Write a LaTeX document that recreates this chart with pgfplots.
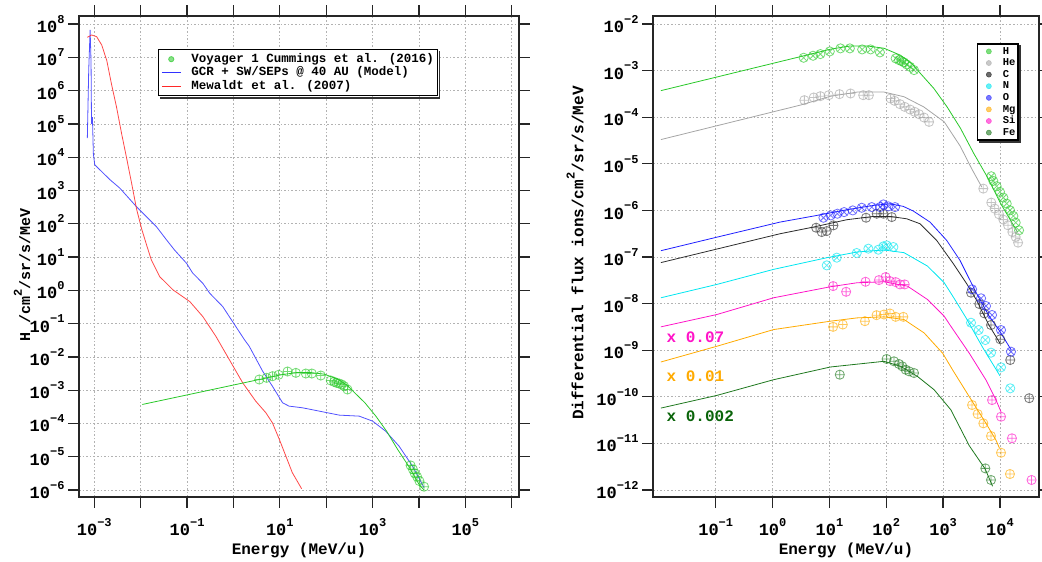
\documentclass[border=0pt]{standalone}
\usepackage{fontspec}
\setmainfont{Liberation Mono}
\usepackage{pgfplots}
\pgfplotsset{compat=1.18}

\definecolor{cH}{RGB}{40,200,40}
\definecolor{cHe}{RGB}{165,165,165}
\definecolor{cC}{RGB}{45,45,45}
\definecolor{cN}{RGB}{0,230,240}
\definecolor{cO}{RGB}{30,30,255}
\definecolor{cMg}{RGB}{255,170,0}
\definecolor{cSi}{RGB}{255,20,200}
\definecolor{cFe}{RGB}{30,120,30}
\definecolor{cRed}{RGB}{255,40,40}
\definecolor{cBlue}{RGB}{50,50,255}
\definecolor{cFeTxt}{RGB}{10,100,10}

\newcommand\ex[1]{\raisebox{0.55em}{\fontsize{12}{12}\selectfont #1}}

\pgfplotsset{
  dat/.style={only marks, mark size=4.6pt, opacity=0.65, mark options={line width=0.8pt}, forget plot},
  mdl/.style={no marks, line width=0.8pt, forget plot},
  legline/.style={legend image code/.code={\draw[##1] (0pt,0pt) -- (19pt,0pt);}},
  legmarkA/.style={legend image code/.code={\path[draw=none,fill=none] (0pt,-0.1pt) rectangle (19pt,0.1pt); \draw[##1,draw=none] plot coordinates {(9.5pt,0pt)};}},
  legmarkB/.style={legend image code/.code={\path[draw=none,fill=none] (0pt,-0.1pt) rectangle (18pt,0.1pt); \draw[##1,draw=none] plot coordinates {(9pt,0pt)};}},
}

\begin{document}
\bfseries
\begin{tikzpicture}
\useasboundingbox (0,0) rectangle (1042pt,562pt);

% ================= LEFT PANEL =================
\begin{axis}[
  scale only axis, xmode=log, ymode=log,
  axis line style={line width=1.3pt, black!85},
  tick style={line width=1.3pt, black!85},
  major tick length=11pt,
  tick align=outside,
  xtick pos=both, ytick pos=both,
  xticklabel pos=lower, yticklabel pos=left,
  xminorticks=false, yminorticks=false,
  grid=major,
  major grid style={dash pattern=on 1.6pt off 2pt, line width=0.7pt, black!30},
  tick label style={font=\fontsize{17}{17}\selectfont\bfseries},
  xticklabel style={yshift=-7pt},
  label style={font=\fontsize{16}{16}\selectfont\bfseries},
  xlabel style={at={(axis description cs:0.5,-0.1185)}, anchor=base},
  at={(79pt,65pt)}, anchor=south west, width=440pt, height=481pt,
  xmin=4.68e-4, xmax=1.435e6, ymin=6.17e-7, ymax=1.74e8,
  xtick={1e-3,1e-2,1e-1,1,10,100,1000,1e4,1e5,1e6},
  xticklabels={10\ex{−3},,10\ex{−1},,10\ex{1},,10\ex{3},,10\ex{5},},
  ytick={1e-6,1e-5,1e-4,1e-3,1e-2,1e-1,1,10,100,1e3,1e4,1e5,1e6,1e7,1e8},
  yticklabels={10\ex{−6},10\ex{−5},10\ex{−4},10\ex{−3},10\ex{−2},10\ex{−1},10\ex{0},10\ex{1},10\ex{2},10\ex{3},10\ex{4},10\ex{5},10\ex{6},10\ex{7},10\ex{8}},
  xlabel={Energy (MeV/u)},
  ylabel={H /cm\ex{2}/sr/s/MeV},
  ylabel style={at={(axis description cs:-0.1295,0.462)}, anchor=center, font=\fontsize{15}{15}\selectfont\bfseries},
  legend style={name=legL, at={(0.179,0.931)}, anchor=north west, draw=black, line width=1.2pt, fill=white,
    font=\fontsize{12.5}{13}\selectfont\bfseries, inner sep=3pt,
    nodes={inner sep=0.6pt, text height=9pt, text depth=2.6pt}, row sep=0.8pt,
    /tikz/every odd column/.append style={column sep=9.6pt}},
  legend cell align=left,
]
\addlegendimage{legmarkA, only marks, mark=*, mark size=2.6pt, mark options={fill=cH!55, draw=cH!80, line width=0.8pt}}
\addlegendentry{Voyager 1 Cummings et al. (2016)}
\addlegendimage{legline, cBlue, line width=0.8pt}
\addlegendentry{GCR + SW/SEPs @ 40 AU (Model)}
\addlegendimage{legline, cRed, line width=0.8pt}
\addlegendentry{Mewaldt et al. (2007)}

% GCR + SW/SEPs model
\addplot[mdl, cBlue, opacity=0.85] coordinates {
(7.079e-4,3.715e4)(7.586e-4,4.169e6)(8.128e-4,6.607e7)(8.511e-4,7.413e6)(8.710e-4,1e5)(9.120e-4,1.585e5)
(9.550e-4,1.259e4)(1.023e-3,5888)(2.188e-3,2089)(3.548e-3,1175)(8.128e-3,323.6)(2.188e-2,81.28)
(3.631e-2,32.36)(5.370e-2,16.22)(9.772e-2,6.457)(0.1318,3.311)(0.2188,1.622)(0.309,0.8128)
(0.5888,0.3236)(1,0.1047)(1.738,0.03236)(2.188,0.02089)(4.266,3.715e-3)(6.918,1.318e-3)
(11.48,4.169e-4)(15.85,3.311e-4)(30.9,2.951e-4)(70.79,2.344e-4)(190.5,1.778e-4)(512.9,1.660e-4)
(1000,1.175e-4)(1905,5.888e-5)(3715,2.089e-5)(7244,5.248e-6)(12880,1.175e-6)};

% Mewaldt et al. (2007)
\addplot[mdl, cRed, opacity=0.85] coordinates {
(7.079e-4,3.981e7)(8.710e-4,4.677e7)(1.122e-3,4.169e7)(1.445e-3,2.344e7)(1.862e-3,7.943e6)
(2.344e-3,1.585e6)(3.020e-3,3.162e5)(3.890e-3,5.012e4)(5.012e-3,8913)(6.310e-3,1778)
(8.128e-3,281.8)(1.047e-2,70.79)(1.349e-2,22.39)(1.698e-2,8.128)(2.570e-2,2.570)(5.012e-2,1.023)
(0.1148,0.4571)(0.2188,0.1622)(0.4169,0.04169)(0.8128,8.318e-3)(1.585,1.660e-3)(3.020,4.677e-4)
(5.012,2.089e-4)(6.918,1.047e-4)(9.772,3.311e-5)(13.49,1.047e-5)(18.62,3.311e-6)(29.51,1.096e-6)};

% H model (green)
\addplot[mdl, cH] coordinates {
(1.084e-2,3.715e-4)(3.09,1.995e-3)(10.47,2.884e-3)(23.44,3.388e-3)(45.71,3.388e-3)(91.2,3.020e-3)
(177.8,2.138e-3)(281.8,1.413e-3)(398.1,8.710e-4)(683.9,4.169e-4)(1175,1.660e-4)(2023,5.754e-5)
(3467,1.660e-5)(5970,5.248e-6)(10230,1.413e-6)(12880,1.0e-6)};

% Voyager 1 data
\addplot[dat, mark=oplus, cH] coordinates {
(3.606,2.089e-3)(5.188,2.344e-3)(6.982,2.630e-3)(9.397,2.884e-3)(14.66,3.631e-3)(22.18,3.311e-3)
(36.39,3.162e-3)(48.98,3.162e-3)(76.56,2.754e-3)(125.6,1.950e-3)(148.3,1.778e-3)(166.3,1.660e-3)
(189.7,1.585e-3)(216.8,1.479e-3)(243.2,1.318e-3)(287.1,1.047e-3)
(6607,5.495e-6)(7413,4.169e-6)(8128,3.162e-6)(9120,2.512e-6)(10230,1.862e-6)(12880,1.259e-6)};
\end{axis}
\fill[black!80] ([shift={(2pt,-0.6pt)}]legL.south west) rectangle ([shift={(2.2pt,-2.2pt)}]legL.south east);
\fill[black!80] ([shift={(0.6pt,-2pt)}]legL.north east) rectangle ([shift={(2.2pt,-2.2pt)}]legL.south east);

% ================= RIGHT PANEL =================
\begin{axis}[
  scale only axis, xmode=log, ymode=log,
  axis line style={line width=1.3pt, black!85},
  tick style={line width=1.3pt, black!85},
  major tick length=11pt,
  tick align=outside,
  xtick pos=both, ytick pos=both,
  xticklabel pos=lower, yticklabel pos=left,
  xminorticks=false, yminorticks=false,
  grid=major,
  major grid style={dash pattern=on 1.6pt off 2pt, line width=0.7pt, black!30},
  tick label style={font=\fontsize{17}{17}\selectfont\bfseries},
  xticklabel style={yshift=-7pt},
  label style={font=\fontsize{16}{16}\selectfont\bfseries},
  xlabel style={at={(axis description cs:0.5,-0.1185)}, anchor=base},
  at={(653pt,65pt)}, anchor=south west, width=386pt, height=481pt,
  xmin=7.89e-3, xmax=4.853e4, ymin=7.08e-13, ymax=1.486e-2,
  xtick={1e-1,1,10,100,1000,1e4},
  xticklabels={10\ex{−1},10\ex{0},10\ex{1},10\ex{2},10\ex{3},10\ex{4}},
  ytick={1e-12,1e-11,1e-10,1e-9,1e-8,1e-7,1e-6,1e-5,1e-4,1e-3,1e-2},
  yticklabels={10\ex{−12},10\ex{−11},10\ex{−10},10\ex{−9},10\ex{−8},10\ex{−7},10\ex{−6},10\ex{−5},10\ex{−4},10\ex{−3},10\ex{−2}},
  xlabel={Energy (MeV/u)},
  ylabel={Differential flux ions/cm\ex{2}/sr/s/MeV},
  ylabel style={at={(axis description cs:-0.202,0.507)}, anchor=center},
  legend style={name=legR, at={(0.840,0.943)}, anchor=north west, draw=black, line width=1.2pt, fill=white,
    font=\fontsize{10.5}{11}\selectfont\bfseries, inner sep=2pt,
    nodes={inner sep=0.5pt, text height=7.6pt, text depth=2.2pt}, row sep=0.8pt,
    /tikz/every odd column/.append style={column sep=4.6pt}},
  legend cell align=left,
]
\addlegendimage{legmarkB, only marks, mark=*, mark size=2.5pt, mark options={fill=cH!60, draw=cH!75, line width=0.6pt}}
\addlegendentry{H}
\addlegendimage{legmarkB, only marks, mark=*, mark size=2.5pt, mark options={fill=cHe!60, draw=cHe!75, line width=0.6pt}}
\addlegendentry{He}
\addlegendimage{legmarkB, only marks, mark=*, mark size=2.5pt, mark options={fill=cC!70, draw=cC!85, line width=0.6pt}}
\addlegendentry{C}
\addlegendimage{legmarkB, only marks, mark=*, mark size=2.5pt, mark options={fill=cN!60, draw=cN!75, line width=0.6pt}}
\addlegendentry{N}
\addlegendimage{legmarkB, only marks, mark=*, mark size=2.5pt, mark options={fill=cO!60, draw=cO!75, line width=0.6pt}}
\addlegendentry{O}
\addlegendimage{legmarkB, only marks, mark=*, mark size=2.5pt, mark options={fill=cMg!60, draw=cMg!75, line width=0.6pt}}
\addlegendentry{Mg}
\addlegendimage{legmarkB, only marks, mark=*, mark size=2.5pt, mark options={fill=cSi!60, draw=cSi!75, line width=0.6pt}}
\addlegendentry{Si}
\addlegendimage{legmarkB, only marks, mark=*, mark size=2.5pt, mark options={fill=cFe!60, draw=cFe!75, line width=0.6pt}}
\addlegendentry{Fe}

% ---- model lines ----
\addplot[mdl, cH] coordinates {
(1.084e-2,3.715e-4)(3.09,1.995e-3)(10.47,2.884e-3)(23.44,3.388e-3)(45.71,3.388e-3)(91.2,3.020e-3)
(177.8,2.138e-3)(281.8,1.413e-3)(398.1,8.710e-4)(683.9,4.169e-4)(1175,1.660e-4)(2023,5.754e-5)
(3467,1.660e-5)(5970,5.248e-6)(10230,1.413e-6)(20230,3.467e-7)};
\addplot[mdl, cHe] coordinates {
(1.084e-2,3.311e-5)(3.09,1.820e-4)(10.47,2.818e-4)(30.90,3.467e-4)(91.20,3.467e-4)(204.2,2.754e-4)
(457.1,1.660e-4)(1047,7.943e-5)(1995,2.399e-5)(3162,7.943e-6)(4786,3.162e-6)};
\addplot[mdl, cO] coordinates {
(1.084e-2,1.365e-7)(0.1,2.630e-7)(1.358,5.623e-7)(5.236,7.568e-7)(20.18,1.033e-6)(59.29,1.279e-6)
(116.4,1.390e-6)(199.5,1.219e-6)(299.2,9.683e-7)(587.5,5.623e-7)(1153,2.275e-7)(1977,8.492e-8)
(2965,3.162e-8)(3890,1.637e-8)(6310,5.623e-9)(10000,2.512e-9)(15850,1.0e-9)};
\addplot[mdl, cC] coordinates {
(1.084e-2,7.586e-8)(0.1,1.462e-7)(1.358,3.162e-7)(5.236,4.395e-7)(20.18,6.310e-7)(59.29,7.430e-7)
(116.4,7.430e-7)(229.1,6.607e-7)(391.7,5.176e-7)(769.1,2.275e-7)(1510,7.194e-8)(2588,2.685e-8)
(3882,1.178e-8)(6310,3.548e-9)(10000,1.413e-9)};
\addplot[mdl, cN] coordinates {
(1.084e-2,1.334e-8)(0.1047,2.582e-8)(1.042,5.433e-8)(9.099,9.683e-8)(30.76,1.282e-7)(91.0,1.416e-7)
(205.1,1.239e-7)(529.7,6.397e-8)(1042,2.818e-8)(1585,1.259e-8)(2512,5.012e-9)(5012,1.122e-9)(10000,2.818e-10)};
\addplot[mdl, cSi] coordinates {
(1.084e-2,3.170e-9)(0.1047,5.834e-9)(1.042,1.334e-8)(10.42,2.301e-8)(30.76,2.805e-8)(91.0,2.944e-8)
(235.0,2.377e-8)(529.7,1.227e-8)(1042,5.370e-9)(1365,3.273e-9)(2891,8.570e-10)(5675,2.291e-10)
(8511,8.511e-11)(10420,4.786e-11)};
\addplot[mdl, cMg] coordinates {
(1.084e-2,5.585e-10)(0.1047,1.216e-9)(1.042,2.773e-9)(10.42,4.198e-9)(30.76,4.943e-9)(91.0,5.200e-9)
(205.1,4.560e-9)(462.4,2.355e-9)(984.0,8.570e-10)(1472,3.758e-10)(2891,1.0e-10)(5675,2.692e-11)
(8511,1.175e-11)(9772,7.943e-12)};
\addplot[mdl, cFe] coordinates {
(1.084e-2,5.728e-11)(0.1047,1.072e-10)(1.042,2.328e-10)(10.42,4.365e-10)(91.0,5.781e-10)(179.1,4.508e-10)
(352.4,2.748e-10)(693.4,1.419e-10)(1365,5.272e-11)(2884,8.913e-12)(5495,2.818e-12)(7413,1.202e-12)};

% ---- data ----
\addplot[dat, mark=otimes, cH] coordinates {
(3.524,1.888e-3)(5.152,2.084e-3)(6.934,2.265e-3)(10.14,2.582e-3)(15.63,2.999e-3)(22.86,2.999e-3)
(37.67,2.851e-3)(52.97,2.851e-3)(77.27,2.460e-3)(146.2,1.828e-3)(167.5,1.683e-3)(184.1,1.600e-3)
(205.1,1.500e-3)(228.6,1.358e-3)(261.8,1.208e-3)(307.6,1.026e-3)
(7031,5.408e-6)(7621,4.295e-6)(8730,3.304e-6)(10000,2.495e-6)(11460,1.884e-6)(13120,1.400e-6)
(15000,1.007e-6)(17180,7.603e-7)(18880,5.470e-7)(21630,3.741e-7)};
\addplot[dat, mark=oplus, cHe] coordinates {
(3.622,2.323e-4)(5.297,2.649e-4)(6.934,2.831e-4)(9.727,2.972e-4)(15.00,3.126e-4)(23.50,3.228e-4)
(39.26,2.972e-4)(49.43,2.972e-4)(119.1,2.518e-4)(140.3,2.244e-4)(174.2,1.905e-4)(210.9,1.667e-4)
(261.8,1.462e-4)(316.2,1.303e-4)(376.7,1.161e-4)(462.4,9.840e-5)(566.2,7.943e-5)
(5082,2.938e-6)(7031,1.472e-6)(8054,1.094e-6)(9594,8.260e-7)(11460,6.339e-7)(13840,4.797e-7)
(16520,3.443e-7)(18880,2.692e-7)(20800,2.032e-7)};
\addplot[dat, mark=oplus, cC] coordinates {
(5.834,4.256e-7)(7.328,3.436e-7)(8.974,3.606e-7)(11.75,4.775e-7)(44.06,6.966e-7)(67.92,8.492e-7)
(88.92,8.492e-7)(124.7,7.194e-7)
(3097,1.714e-8)(4335,9.795e-9)(5309,6.180e-9)(6950,3.475e-9)(10120,1.714e-9)(15140,6.166e-10)(32660,9.333e-11)};
\addplot[dat, mark=otimes, cO] coordinates {
(7.852,6.966e-7)(10.54,7.816e-7)(13.80,8.492e-7)(18.11,9.204e-7)(25.70,1.000e-6)(36.98,1.140e-6)
(55.46,1.178e-6)(77.62,1.178e-6)(88.92,1.346e-6)(108.9,1.219e-6)(142.6,1.178e-6)
(3228,2.028e-8)(4645,1.300e-8)(5675,8.872e-9)(7244,5.689e-9)(10420,2.710e-9)(15600,9.290e-10)};
\addplot[dat, mark=otimes, cN] coordinates {
(8.974,6.622e-8)(13.46,9.683e-8)(30.20,1.219e-7)(48.42,1.510e-7)(72.61,1.435e-7)(88.92,1.694e-7)
(101.9,1.778e-7)(133.4,1.637e-7)
(3090,3.890e-9)(4217,2.710e-9)(5521,1.656e-9)(6950,8.851e-10)(10420,4.295e-10)(15140,1.521e-10)};
\addplot[dat, mark=oplus, cSi] coordinates {
(11.61,2.377e-8)(19.68,1.795e-8)(43.15,2.944e-8)(74.30,3.199e-8)(97.27,3.715e-8)(116.1,3.041e-8)
(146.2,2.897e-8)(174.2,2.582e-8)(210.9,2.582e-8)
(7244,8.511e-11)(10420,3.741e-11)(16220,1.288e-11)(35890,1.641e-12)};
\addplot[dat, mark=oplus, cMg] coordinates {
(11.61,3.170e-9)(17.18,3.556e-9)(42.07,4.198e-9)(67.45,5.649e-9)(91.0,5.834e-9)(116.1,6.138e-9)
(146.2,5.200e-9)(199.5,5.200e-9)
(3228,6.668e-11)(4046,4.276e-11)(5093,2.698e-11)(6950,1.442e-11)(10420,6.310e-12)(14960,2.203e-12)};
\addplot[dat, mark=oplus, cFe] coordinates {
(15.21,2.985e-10)(101.4,6.486e-10)(136.5,5.781e-10)(167.5,5.058e-10)(191.4,4.508e-10)(219.3,3.828e-10)
(251.2,3.524e-10)(307.6,3.243e-10)
(5521,2.911e-12)(6950,1.641e-12)};

\node[anchor=west, text=cSi, font=\fontsize{16}{16}\selectfont\bfseries] at (axis cs:1.189e-2,1.875e-9) {x 0.07};
\node[anchor=west, text=cMg, font=\fontsize{16}{16}\selectfont\bfseries] at (axis cs:1.189e-2,2.793e-10) {x 0.01};
\node[anchor=west, text=cFeTxt, font=\fontsize{16}{16}\selectfont\bfseries] at (axis cs:1.189e-2,3.776e-11) {x 0.002};
\end{axis}
\fill[black!80] ([shift={(2pt,-0.6pt)}]legR.south west) rectangle ([shift={(2.2pt,-2.2pt)}]legR.south east);
\fill[black!80] ([shift={(0.6pt,-2pt)}]legR.north east) rectangle ([shift={(2.2pt,-2.2pt)}]legR.south east);
\end{tikzpicture}
\end{document}
